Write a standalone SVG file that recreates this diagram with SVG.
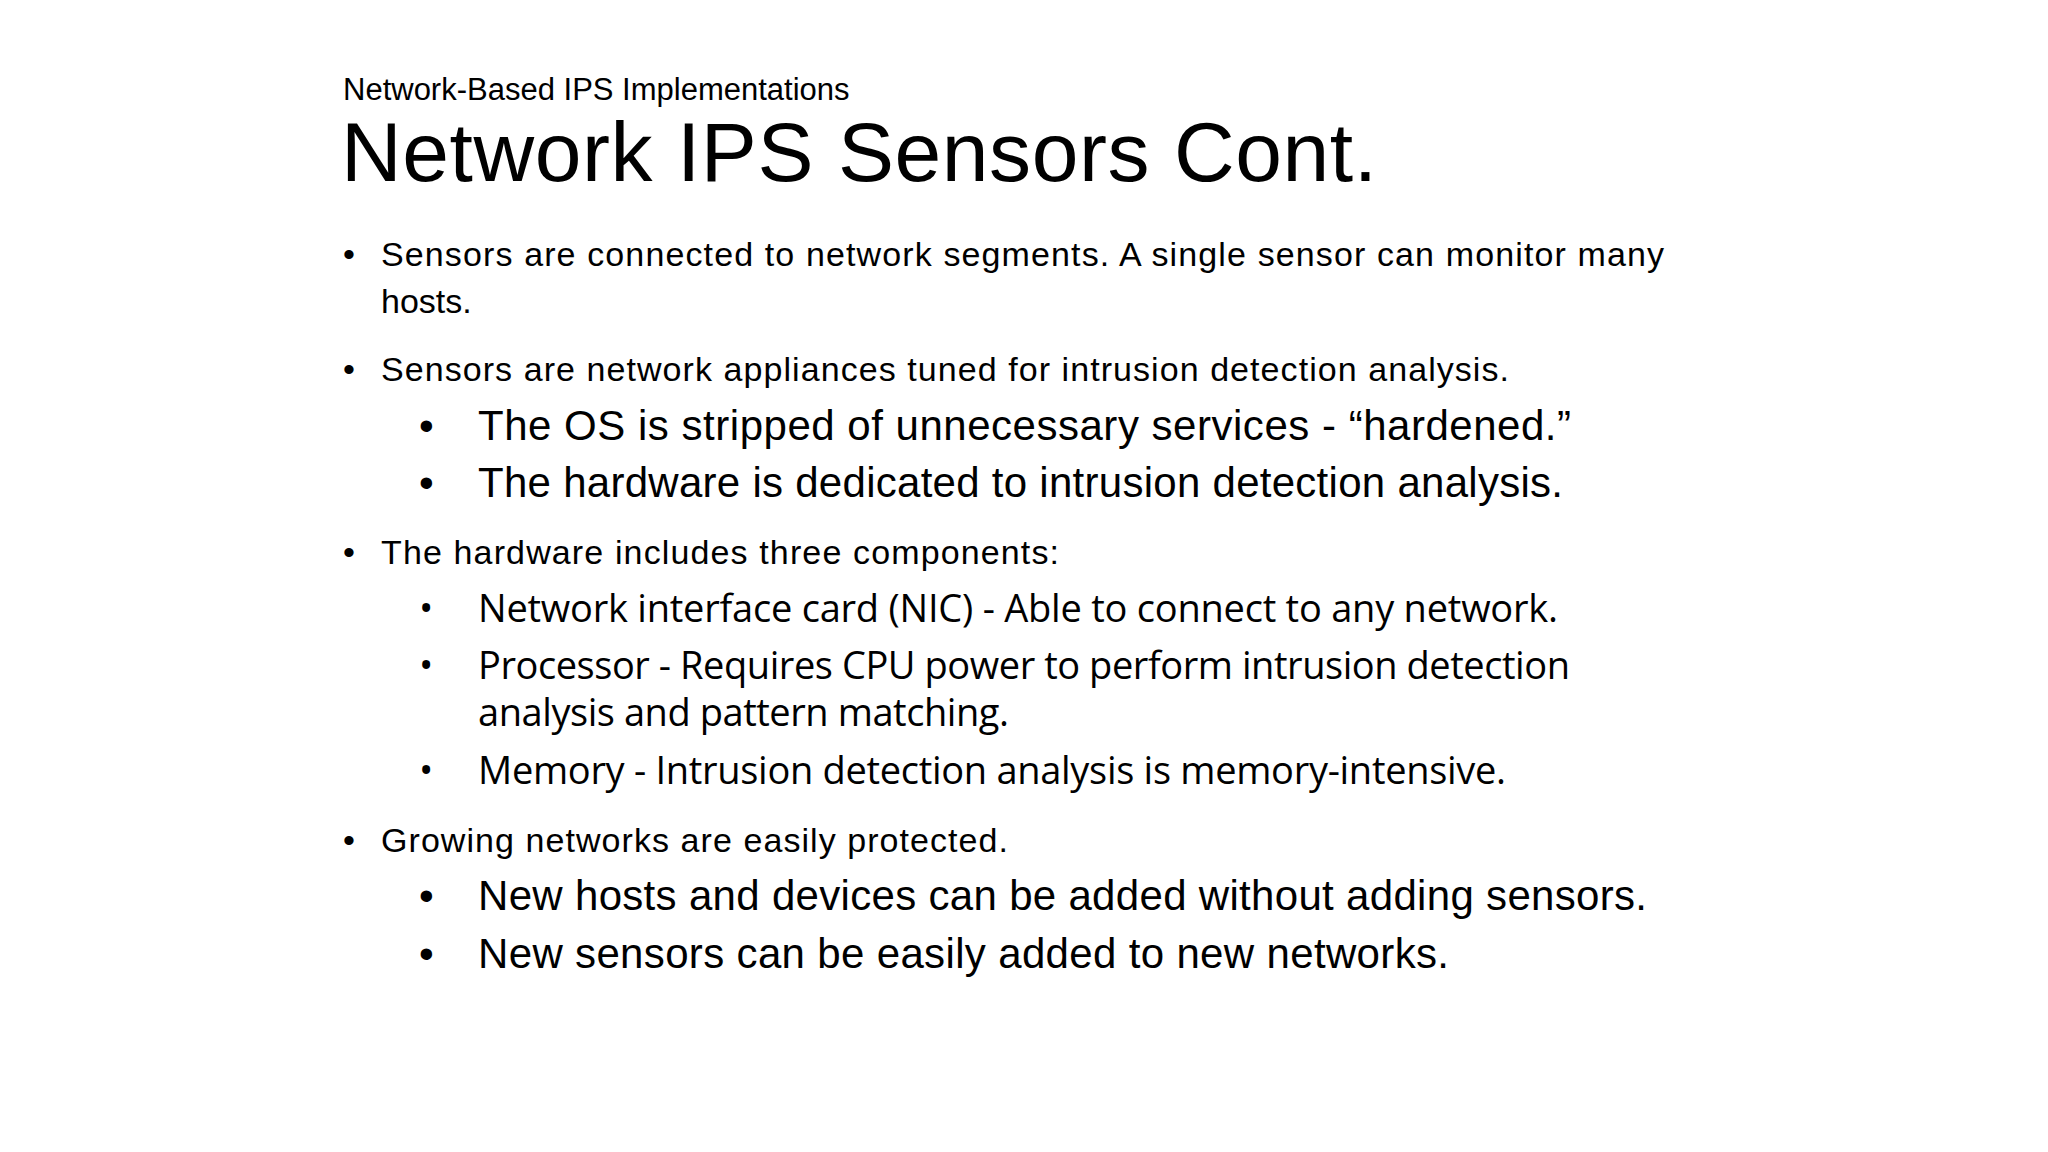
<svg xmlns="http://www.w3.org/2000/svg" width="2048" height="1152" viewBox="0 0 2048 1152">
<style>
.a{font-family:"Liberation Sans",Arial,sans-serif;fill:#000}
.c{font-family:"Open Sans","Noto Sans",sans-serif;fill:#000}
.l1{font-size:34px}
.l2{font-size:42px}
.l3{font-size:38px}
</style>
<rect width="2048" height="1152" fill="#fff"/>
<text class="a" x="343" y="100" font-size="31">Network-Based IPS Implementations</text>
<text class="a" x="341" y="181" font-size="84" textLength="1036">Network IPS Sensors Cont.</text>
<g class="a l1">
<text x="343" y="266">•</text><text x="381" y="266" textLength="1283">Sensors are connected to network segments. A single sensor can monitor many</text>
<text x="381" y="313">hosts.</text>
<text x="343" y="381">•</text><text x="381" y="381" textLength="1128">Sensors are network appliances tuned for intrusion detection analysis.</text>
<text x="343" y="564">•</text><text x="381" y="564" textLength="678">The hardware includes three components:</text>
<text x="343" y="852">•</text><text x="381" y="852" textLength="627">Growing networks are easily protected.</text>
</g>
<g class="a l2">
<text x="419" y="440">•</text><text x="478" y="440" textLength="1093">The OS is stripped of unnecessary services - “hardened.”</text>
<text x="419" y="497">•</text><text x="478" y="497" textLength="1085">The hardware is dedicated to intrusion detection analysis.</text>
<text x="419" y="910">•</text><text x="478" y="910" textLength="1169">New hosts and devices can be added without adding sensors.</text>
<text x="419" y="968">•</text><text x="478" y="968" textLength="971">New sensors can be easily added to new networks.</text>
</g>
<g class="c l3">
<text x="419" y="622">•</text><text x="478" y="622" textLength="1080">Network interface card (NIC) - Able to connect to any network.</text>
<text x="419" y="679">•</text><text x="478" y="679" textLength="1092">Processor - Requires CPU power to perform intrusion detection</text>
<text x="478" y="726" textLength="531">analysis and pattern matching.</text>
<text x="419" y="784">•</text><text x="478" y="784" textLength="1028">Memory - Intrusion detection analysis is memory-intensive.</text>
</g>
</svg>
